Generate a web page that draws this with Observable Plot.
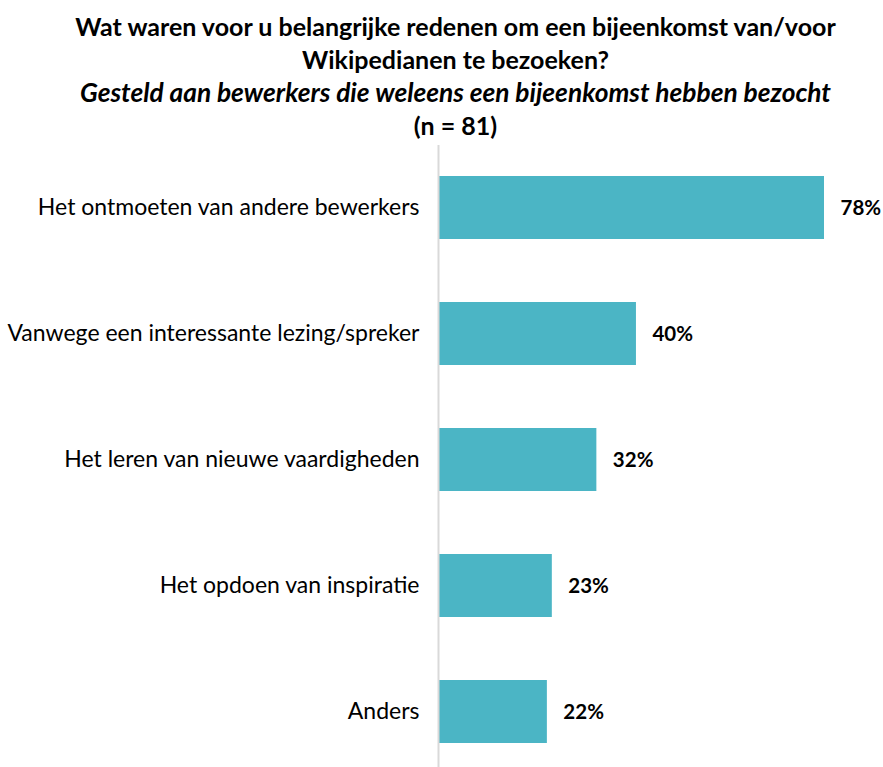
<!DOCTYPE html>
<html>
<head>
<meta charset="utf-8">
<script src="https://cdn.jsdelivr.net/npm/d3@7"></script>
<script src="https://cdn.jsdelivr.net/npm/@observablehq/plot@0.6"></script>
<style>
  html, body { margin: 0; padding: 0; background: #fff; }
  #wrap { width: 883px; font-family: Lato, "Open Sans", sans-serif; color: #000; }
  .title { box-sizing: border-box; height: 145px; text-align: center; font-weight: bold; font-size: 25px; line-height: 33px; padding-left: 28px; padding-top: 10px; white-space: nowrap; }
  .title div { height: 33px; }
  .title .sub { font-style: italic; font-size: 26.3px; }
  svg { display: block; overflow: visible; }
</style>
</head>
<body>
<div id="wrap">
  <div class="title">
    <div>Wat waren voor u belangrijke redenen om een bijeenkomst van/voor</div>
    <div>Wikipedianen te bezoeken?</div>
    <div class="sub">Gesteld aan bewerkers die weleens een bijeenkomst hebben bezocht</div>
    <div>(n = 81)</div>
  </div>
  <div id="chart"></div>
</div>
<script>
const categories = [
  "Het ontmoeten van andere bewerkers",
  "Vanwege een interessante lezing/spreker",
  "Het leren van nieuwe vaardigheden",
  "Het opdoen van inspiratie",
  "Anders"
];
const values = [78, 40, 32, 23, 22];
const labels = ["78%", "40%", "32%", "23%", "22%"];

const data = categories.map((c, i) => ({category: c, value: values[i], label: labels[i]}));

const chart = Plot.plot({
  width: 883,
  height: 629,
  marginLeft: 438,
  marginRight: 59,
  marginTop: 0,
  marginBottom: 0,
  style: {fontFamily: "Lato, 'Open Sans', sans-serif", fontSize: "23px", color: "#000", background: "#fff"},
  x: {domain: [0, 78], axis: null},
  y: {domain: categories, paddingInner: 0.5, paddingOuter: 0.246, label: null},
  marks: [
    Plot.barX(data, {x: "value", y: "category", fill: "#4BB5C5"}),
    Plot.ruleX([0], {stroke: "#D9D9D9", strokeWidth: 2}),
    Plot.text(data, {x: "value", y: "category", text: "label", textAnchor: "start", dx: 16, fontWeight: "bold", fontSize: 20.5, fill: "#000"}),
    Plot.axisY({tickSize: 0, tickPadding: 19, fontSize: 23, label: null, fill: "#000"})
  ]
});
document.getElementById("chart").appendChild(chart);
</script>
</body>
</html>
